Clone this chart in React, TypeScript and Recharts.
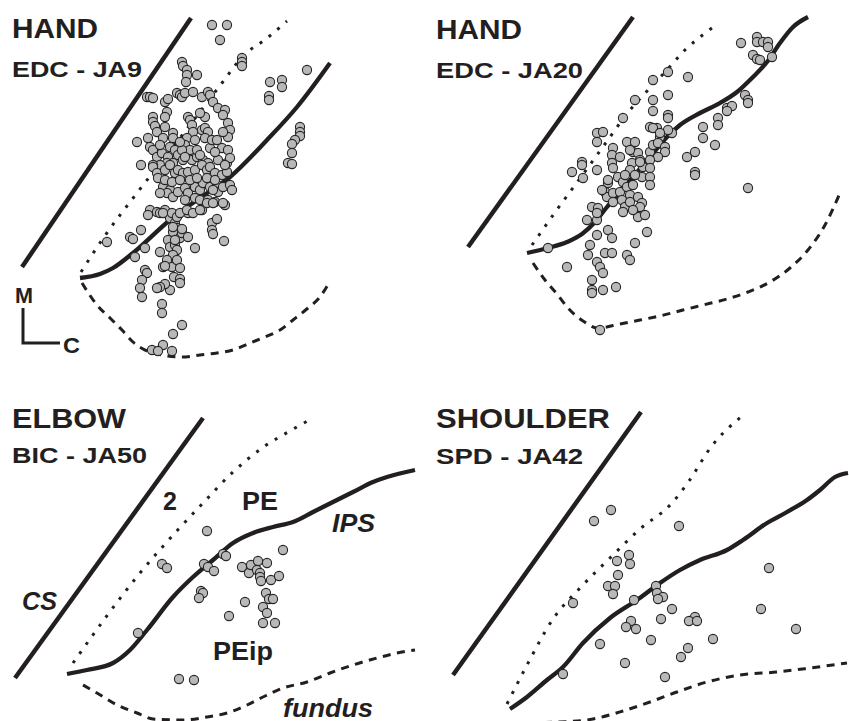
import React from 'react';
import { ComposedChart, Line, Scatter, XAxis, YAxis } from 'recharts';

type Pt = [number, number];

// figure units: 1 unit = 1 px of the original figure, y grows downward

// ---- panel 1: HAND, EDC - JA9
const ja9Cs: Pt[] = [[22, 267], [191, 18]];
const ja9Area2: Pt[] = [[81, 272], [104, 237], [137, 193], [180, 138], [222, 83], [243, 56], [266, 39], [287, 21]];
const ja9Ips: Pt[] = [[80, 278], [100, 274], [113, 268], [133, 253], [170, 220], [197, 200], [230, 177], [267, 140], [297, 107], [330, 63]];
const ja9Fundus: Pt[] = [[82, 283], [97, 305], [110, 318], [122, 330], [133, 342], [150, 352], [182, 357], [200, 355], [217, 353], [233, 350], [250, 343], [265, 337], [280, 330], [293, 320], [308, 308], [320, 297], [329, 283]];
const scaleBar: Pt[] = [[23, 308], [23, 343], [60, 343]];
const ja9Cells: Pt[] = [
  [212, 25], [227, 25], [220, 40], [242, 58], [242, 62], [242, 66], [307, 70],
  [270, 82], [282, 80], [282, 87], [269, 96], [269, 100],
  [300, 127], [300, 132], [300, 136], [295, 140], [292, 144], [292, 153], [288, 163], [292, 164],
  [182, 62], [183, 66], [187, 70], [187, 75], [197, 75], [186, 82],
  [147, 97], [150, 97], [153, 98], [165, 102], [168, 99],
  [177, 93], [180, 95], [182, 97], [185, 93], [193, 92], [202, 97], [208, 92], [210, 95], [213, 102],
  [218, 108], [225, 110], [223, 115], [205, 117], [200, 113], [188, 117], [190, 120], [192, 125], [193, 132],
  [202, 130], [205, 128], [208, 132], [205, 138], [187, 138],
  [167, 112], [165, 117], [153, 117], [153, 122], [155, 126], [157, 132], [163, 138], [173, 133], [173, 138],
  [228, 123], [230, 130], [228, 137], [223, 132], [222, 148], [228, 150],
  [137, 142], [148, 138], [150, 147], [153, 150], [157, 157], [162, 153], [168, 157], [170, 147], [175, 150],
  [178, 155], [183, 160], [173, 163], [167, 163], [160, 165], [153, 165], [141, 165],
  [192, 160], [197, 157], [203, 160], [208, 163], [218, 160], [227, 163], [230, 158],
  [185, 145], [190, 150], [197, 150], [200, 155], [182, 150], [185, 157], [210, 148], [215, 152], [212, 140],
  [195, 140], [180, 142], [217, 140], [160, 145], [165, 127],
  [153, 167], [157, 173], [158, 178], [165, 170], [170, 165], [175, 173], [178, 170], [183, 173], [188, 172],
  [195, 170], [202, 165], [207, 170], [210, 167], [215, 173], [222, 175], [227, 172], [225, 165],
  [163, 187], [170, 190], [167, 193], [160, 193], [173, 197], [178, 192], [185, 188], [188, 193], [195, 187],
  [200, 190], [203, 183], [207, 178], [210, 187], [217, 185], [218, 192], [223, 187], [230, 185],
  [165, 180], [172, 182], [180, 180], [190, 180], [197, 178], [215, 180], [185, 200], [195, 198], [200, 200],
  [225, 205], [215, 202], [208, 200], [202, 210], [188, 213], [178, 215], [170, 218], [175, 223], [177, 228], [173, 232],
  [150, 210], [157, 212], [160, 213], [165, 210], [148, 215], [163, 213], [172, 213], [177, 217], [180, 213],
  [187, 210], [193, 213], [200, 210], [207, 203], [213, 203], [213, 190], [223, 203], [232, 190],
  [141, 230], [130, 237], [133, 239], [107, 242], [145, 248], [135, 257],
  [160, 252], [168, 240], [170, 247], [175, 245], [180, 238], [182, 233], [188, 237], [195, 248],
  [212, 223], [212, 230], [217, 219], [213, 234], [224, 241],
  [173, 227], [182, 229], [175, 240], [177, 250], [173, 255],
  [167, 260], [172, 267], [177, 260], [180, 268], [163, 267], [145, 270], [147, 273], [165, 266],
  [174, 277], [180, 279], [180, 283], [170, 290], [165, 284], [160, 287], [157, 288],
  [142, 280], [140, 288], [142, 297],
  [162, 304], [162, 313], [182, 325], [173, 334], [163, 345], [152, 350], [158, 351], [172, 351],
];

// ---- panel 2: HAND, EDC - JA20
const ja20Cs: Pt[] = [[468, 247], [633, 17]];
const ja20Area2: Pt[] = [[532, 245], [556, 211], [581, 177], [605, 144], [630, 110], [648, 90], [667, 70], [685, 50], [704, 34], [716, 25]];
const ja20Ips: Pt[] = [[527, 253], [548, 248], [567, 242], [582, 234], [595, 222], [607, 207], [620, 192], [633, 177], [650, 157], [667, 137], [680, 125], [700, 113], [720, 103], [737, 92], [753, 77], [767, 62], [780, 43], [793, 27], [808, 17]];
const ja20Fundus: Pt[] = [[533, 263], [545, 280], [557, 294], [568, 308], [583, 321], [598, 328], [620, 324], [640, 320], [660, 316], [683, 310], [703, 305], [727, 299], [748, 292], [770, 282], [790, 268], [808, 250], [825, 225], [840, 193]];
const ja20Cells: Pt[] = [
  [741, 43], [757, 37], [757, 42], [763, 42], [768, 42], [768, 47], [753, 55], [757, 59], [760, 60], [772, 57],
  [668, 72], [653, 80], [688, 77], [668, 95], [653, 100], [635, 100], [653, 111], [668, 115], [668, 118], [623, 118],
  [650, 127], [657, 128], [660, 137], [672, 133], [668, 130], [653, 128], [660, 133],
  [597, 133], [603, 132], [597, 142], [613, 148], [612, 155], [612, 163], [620, 157], [627, 142], [635, 142],
  [633, 152], [638, 153], [640, 160], [632, 163], [630, 170], [650, 152], [653, 145], [658, 143], [665, 147],
  [665, 152], [658, 157], [650, 160], [643, 167], [650, 168], [642, 177], [650, 177], [650, 185], [630, 150],
  [582, 162], [582, 165], [572, 172], [583, 178], [597, 170], [613, 168], [640, 162],
  [618, 177], [623, 182], [608, 183], [605, 192], [607, 197], [613, 193], [620, 192], [627, 187], [630, 195],
  [622, 200], [613, 202], [625, 207], [623, 212], [630, 202], [638, 197], [642, 203], [638, 210], [638, 217],
  [640, 207], [645, 215], [633, 185], [625, 175], [635, 175], [608, 180], [602, 190], [633, 210],
  [592, 207], [598, 208], [587, 220], [597, 220], [597, 213],
  [687, 157], [695, 152], [695, 172], [695, 175], [703, 127], [703, 138], [715, 145], [718, 118], [718, 125],
  [727, 108], [732, 106], [727, 111], [745, 95], [748, 100], [748, 103], [748, 188],
  [608, 230], [612, 238], [597, 235], [590, 245], [635, 243], [647, 232], [548, 248], [567, 267],
  [588, 255], [605, 253], [612, 253], [597, 262], [600, 267], [603, 273], [627, 255], [630, 260],
  [592, 280], [592, 290], [592, 293], [603, 290], [616, 287], [600, 330],
];

// ---- panel 3: ELBOW, BIC - JA50
const ja50Cs: Pt[] = [[15, 678], [203, 418]];
const ja50Area2: Pt[] = [[73, 663], [106, 617], [140, 573], [175, 533], [204, 502], [233, 472], [265, 446], [288, 432], [313, 418]];
const ja50Ips: Pt[] = [[67, 674], [87, 670], [113, 663], [130, 650], [147, 630], [173, 597], [193, 577], [213, 560], [233, 543], [253, 533], [273, 527], [293, 522], [313, 512], [333, 502], [353, 492], [373, 482], [387, 477], [415, 470]];
const ja50Fundus: Pt[] = [[83, 685], [97, 693], [117, 705], [137, 713], [153, 719], [183, 720], [207, 717], [227, 713], [247, 705], [263, 697], [283, 688], [307, 682], [330, 673], [353, 665], [377, 658], [397, 653], [415, 650]];
const ja50Cells: Pt[] = [
  [207, 531], [162, 564], [167, 568], [204, 564], [208, 567], [214, 571], [223, 554], [226, 556], [283, 550],
  [242, 567], [249, 573], [251, 565], [258, 561], [267, 563], [257, 570], [260, 573], [260, 577], [261, 581],
  [271, 580], [279, 576], [201, 591], [203, 593], [199, 598], [266, 593], [269, 599], [273, 599], [245, 602],
  [263, 607], [267, 613], [229, 616], [263, 623], [275, 623], [138, 633], [179, 679], [194, 680],
];

// ---- panel 4: SHOULDER, SPD - JA42
const ja42Cs: Pt[] = [[453, 675], [641, 412]];
const ja42Area2: Pt[] = [[507, 704], [526, 667], [553, 619], [581, 587], [610, 558], [640, 529], [672, 503], [689, 481], [711, 447], [741, 417]];
const ja42Ips: Pt[] = [[510, 709], [527, 697], [547, 680], [563, 667], [583, 643], [610, 618], [637, 600], [660, 583], [680, 570], [700, 560], [727, 550], [743, 540], [767, 523], [787, 512], [807, 500], [820, 490], [835, 477], [848, 473]];
const ja42Fundus: Pt[] = [[515, 723], [560, 722], [593, 719], [623, 711], [650, 702], [677, 692], [707, 682], [740, 675], [777, 672], [810, 668], [847, 663]];
const ja42Cells: Pt[] = [
  [611, 510], [594, 521], [679, 526], [629, 555], [617, 561], [630, 564], [618, 575], [608, 586], [615, 586],
  [613, 594], [573, 603], [656, 586], [657, 593], [663, 597], [658, 599], [634, 600], [672, 609], [631, 621],
  [626, 627], [636, 629], [661, 619], [695, 617], [689, 621], [697, 621], [651, 640], [713, 639], [600, 644],
  [688, 648], [681, 657], [625, 663], [563, 674], [665, 677], [769, 568], [761, 609], [796, 629],
];

const INK = '#231f20';
const toXY = (pts: Pt[]) => pts.map(([x, y]) => ({ x, y }));

const Cell = (p: any) => (
  <circle cx={p.cx} cy={p.cy} r={4.6} fill="#b8b8b8" stroke="#262626" strokeWidth={1.1} />
);

type PanelProps = {
  x0: number; y0: number; w: number; h: number;
  cs: Pt[]; area2: Pt[]; ips: Pt[]; fundus: Pt[]; cells: Pt[]; bar?: Pt[];
};

const Panel = ({ x0, y0, w, h, cs, area2, ips, fundus, cells, bar }: PanelProps) => (
  <div style={{ position: 'absolute', left: x0, top: y0 }}>
    <ComposedChart width={w} height={h} margin={{ top: 0, right: 0, bottom: 0, left: 0 }}>
      <XAxis type="number" dataKey="x" domain={[x0, x0 + w]} hide allowDataOverflow />
      <YAxis type="number" dataKey="y" domain={[y0, y0 + h]} reversed hide allowDataOverflow />
      <Line data={toXY(cs)} dataKey="y" type="linear" stroke={INK} strokeWidth={4.5} dot={false} activeDot={false} isAnimationActive={false} />
      <Line data={toXY(area2)} dataKey="y" type="monotone" stroke={INK} strokeWidth={3} strokeDasharray="3 8.2" dot={false} activeDot={false} isAnimationActive={false} />
      <Line data={toXY(fundus)} dataKey="y" type="monotone" stroke={INK} strokeWidth={3} strokeDasharray="8 6.5" dot={false} activeDot={false} isAnimationActive={false} />
      <Line data={toXY(ips)} dataKey="y" type="monotone" stroke={INK} strokeWidth={4.3} dot={false} activeDot={false} isAnimationActive={false} />
      {bar && (
        <Line data={toXY(bar)} dataKey="y" type="linear" stroke={INK} strokeWidth={3} dot={false} activeDot={false} isAnimationActive={false} />
      )}
      <Scatter data={toXY(cells)} shape={Cell} isAnimationActive={false} />
    </ComposedChart>
  </div>
);

const T = ({ x, y, size, len, italic, children }: any) => (
  <text
    x={x}
    y={y}
    fontSize={size}
    fontWeight="bold"
    fontStyle={italic ? 'italic' : 'normal'}
    textLength={len}
    lengthAdjust={len ? 'spacingAndGlyphs' : undefined}
    fill={INK}
  >
    {children}
  </text>
);

export default function App() {
  return (
    <div style={{ position: 'absolute', left: 0, top: 0, width: 849, height: 721, overflow: 'hidden', background: '#fff' }}>
      <Panel x0={0} y0={0} w={424} h={367} cs={ja9Cs} area2={ja9Area2} ips={ja9Ips} fundus={ja9Fundus} cells={ja9Cells} bar={scaleBar} />
      <Panel x0={425} y0={0} w={424} h={367} cs={ja20Cs} area2={ja20Area2} ips={ja20Ips} fundus={ja20Fundus} cells={ja20Cells} />
      <Panel x0={0} y0={367} w={424} h={354} cs={ja50Cs} area2={ja50Area2} ips={ja50Ips} fundus={ja50Fundus} cells={ja50Cells} />
      <Panel x0={425} y0={367} w={424} h={354} cs={ja42Cs} area2={ja42Area2} ips={ja42Ips} fundus={ja42Fundus} cells={ja42Cells} />
      <svg width={849} height={721} style={{ position: 'absolute', left: 0, top: 0, pointerEvents: 'none', fontFamily: '"Liberation Sans", Arial, sans-serif' }}>
        <T x={12} y={38} size={28} len={86}>HAND</T>
        <T x={12} y={77} size={22} len={130}>EDC - JA9</T>
        <T x={15} y={303} size={22} len={18}>M</T>
        <T x={63} y={353} size={22} len={17}>C</T>
        <T x={436} y={39} size={28} len={86}>HAND</T>
        <T x={436} y={78} size={22} len={147}>EDC - JA20</T>
        <T x={12} y={428} size={28} len={114}>ELBOW</T>
        <T x={12} y={463} size={22} len={135}>BIC - JA50</T>
        <T x={163} y={510} size={25}>2</T>
        <T x={242} y={510} size={25} len={36}>PE</T>
        <T x={332} y={532} size={25} len={43} italic>IPS</T>
        <T x={22} y={610} size={25} len={35} italic>CS</T>
        <T x={213} y={660} size={25} len={60}>PEip</T>
        <T x={283} y={717} size={25} len={90} italic>fundus</T>
        <T x={436} y={428} size={28} len={174}>SHOULDER</T>
        <T x={436} y={464} size={22} len={147}>SPD - JA42</T>
      </svg>
    </div>
  );
}
